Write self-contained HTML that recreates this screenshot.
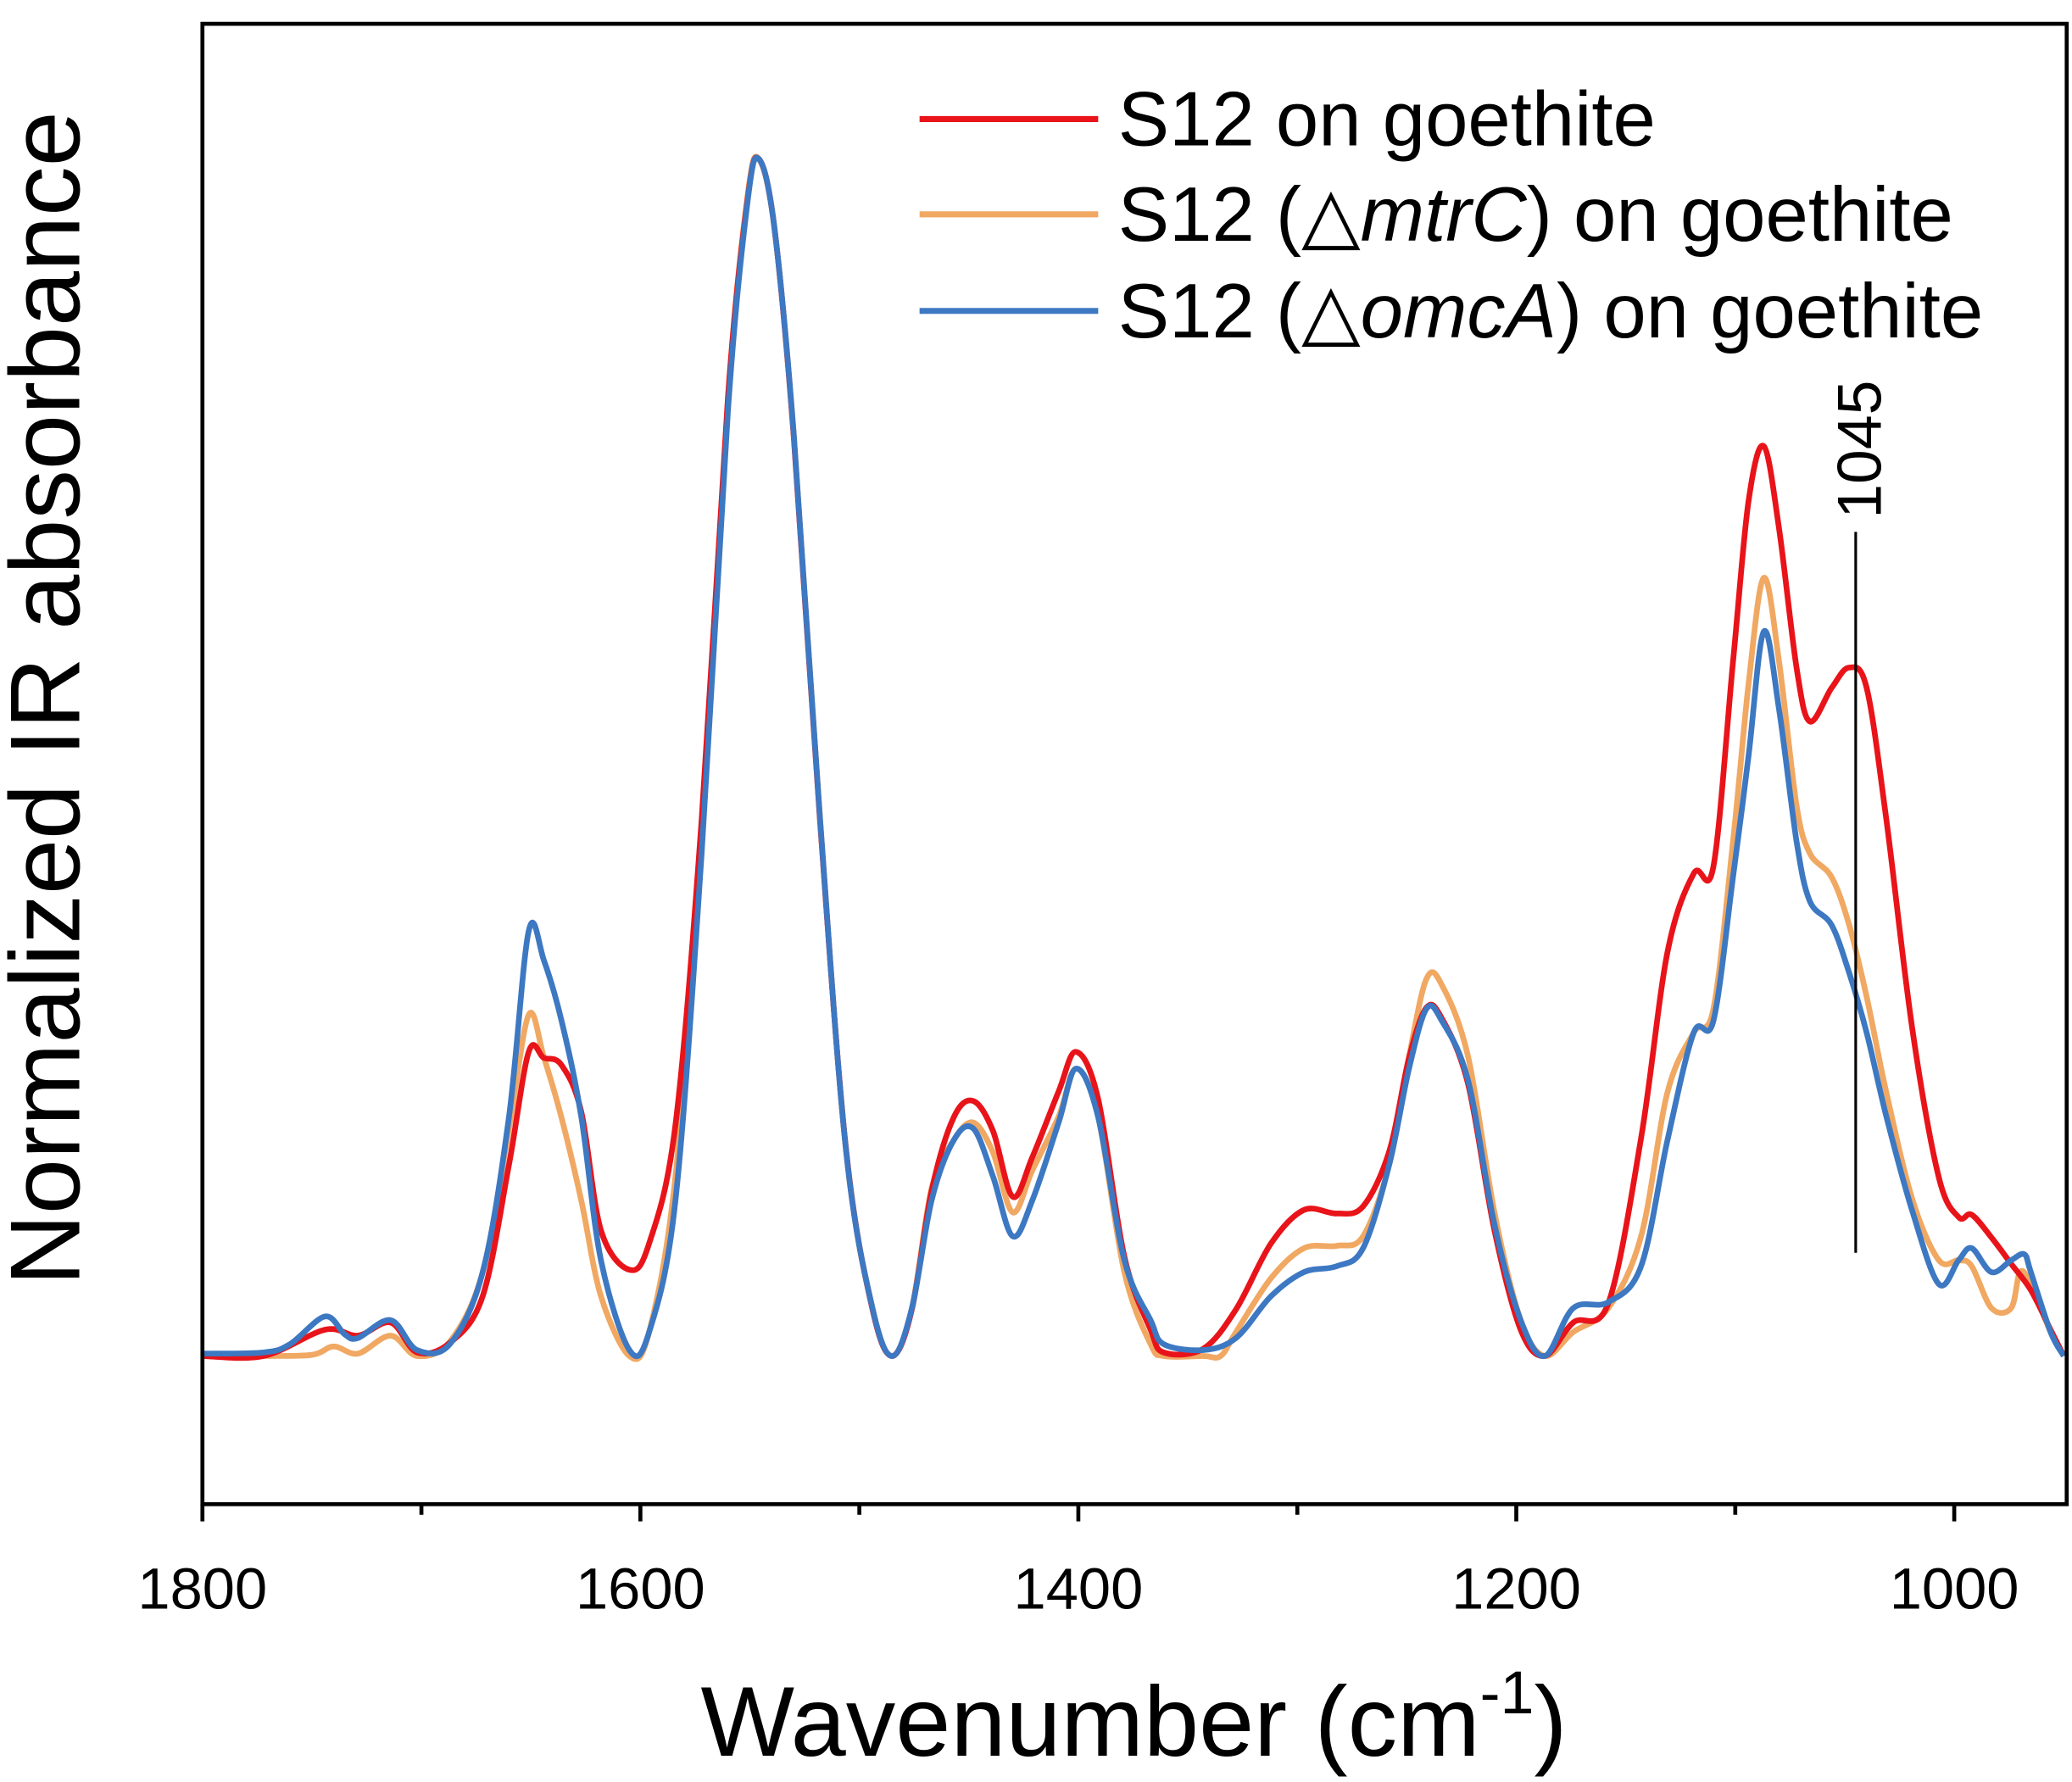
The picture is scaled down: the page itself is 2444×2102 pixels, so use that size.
<!DOCTYPE html>
<html><head><meta charset="utf-8"><style>
html,body{margin:0;padding:0;background:#fff;}
svg{display:block;font-family:"Liberation Sans",Arial,sans-serif;}
</style></head><body>
<svg id="chart" width="2444" height="2102" viewBox="0 0 1566 1347" preserveAspectRatio="none" xmlns="http://www.w3.org/2000/svg">
<g id="series"></g>
<rect x="153" y="18" width="1409" height="1119" fill="none" stroke="#000" stroke-width="3"/>
<g id="axis"></g>
<text transform="translate(60,528) rotate(-90)" text-anchor="middle" font-size="75">Normalized IR absorbance</text>
<text x="857" y="1327" text-anchor="middle" font-size="75">Wavenumber (cm<tspan font-size="46" dy="-32">-1</tspan><tspan dy="32">)</tspan></text>
<g font-size="58">
<line x1="695" y1="90" x2="830" y2="90" stroke="#e8141a" stroke-width="4.5"/>
<text x="845" y="110">S12 on goethite</text>
<line x1="695" y1="162" x2="830" y2="162" stroke="#f0a862" stroke-width="4.5"/>
<text x="845" y="182">S12 (△<tspan font-style="italic">mtrC</tspan>) on goethite</text>
<line x1="695" y1="235" x2="830" y2="235" stroke="#3d78c2" stroke-width="4.5"/>
<text x="845" y="255">S12 (△<tspan font-style="italic">omcA</tspan>) on goethite</text>
</g>
<g id="annot"></g>
</svg>
<script>
const categoriesRed = [1800,1772,1744,1729,1714,1702,1687,1672,1660,1651,1644,1636,1627,1618,1605,1596,1584,1572,1560,1551,1546,1539,1530,1518,1506,1494,1485,1476,1467,1457,1448,1439,1430,1421,1409,1401,1391,1379,1367,1361,1343,1328,1312,1297,1282,1270,1258,1249,1241,1234,1222,1210,1198,1187,1174,1158,1143,1131,1119,1110,1101,1094,1087,1080,1072,1066,1056,1048,1040,1031,1019,1007,998,992,983,974,965,956,950];
const valuesRed = [0,0,0.022,0.017,0.028,0.003,0.011,0.05,0.16,0.254,0.249,0.243,0.204,0.105,0.072,0.094,0.193,0.448,0.801,0.967,1.0,0.945,0.768,0.448,0.171,0.039,0,0.039,0.138,0.199,0.213,0.188,0.133,0.166,0.221,0.254,0.215,0.083,0.022,0.003,0.006,0.039,0.094,0.122,0.119,0.125,0.171,0.249,0.291,0.282,0.227,0.105,0.022,0,0.028,0.044,0.182,0.337,0.403,0.409,0.58,0.713,0.76,0.691,0.575,0.53,0.558,0.575,0.558,0.448,0.271,0.149,0.116,0.118,0.099,0.077,0.055,0.022,0];
const categoriesOrange = [1800,1772,1750,1740,1729,1714,1702,1687,1672,1660,1651,1644,1636,1627,1618,1605,1596,1584,1572,1560,1551,1546,1539,1530,1518,1506,1494,1485,1476,1467,1457,1448,1439,1430,1421,1409,1401,1391,1379,1367,1361,1343,1335,1328,1312,1297,1282,1270,1258,1249,1241,1234,1222,1210,1198,1187,1174,1158,1143,1131,1119,1110,1101,1094,1087,1080,1072,1066,1056,1048,1040,1031,1019,1007,998,992,983,974,970,965,956,950];
const valuesOrange = [0,0,0.001,0.008,0.002,0.017,0,0.012,0.07,0.19,0.285,0.249,0.199,0.13,0.05,0,0.02,0.15,0.43,0.8,0.97,1.0,0.945,0.77,0.45,0.17,0.04,0,0.04,0.14,0.18,0.195,0.17,0.12,0.155,0.2,0.24,0.2,0.07,0.01,0,0,0,0.02,0.065,0.09,0.092,0.1,0.16,0.25,0.315,0.31,0.25,0.12,0.03,0,0.02,0.04,0.1,0.22,0.27,0.29,0.43,0.56,0.65,0.58,0.46,0.42,0.4,0.36,0.3,0.22,0.13,0.08,0.08,0.075,0.04,0.04,0.07,0.06,0.02,0];
const categoriesBlue = [1800,1772,1760,1744,1735,1729,1714,1702,1687,1672,1660,1651,1644,1636,1627,1618,1605,1596,1584,1572,1560,1551,1546,1539,1530,1518,1506,1494,1485,1476,1467,1457,1448,1439,1430,1421,1409,1401,1391,1379,1367,1361,1343,1328,1312,1297,1282,1270,1258,1249,1241,1234,1222,1210,1198,1187,1174,1158,1143,1131,1119,1110,1101,1094,1087,1080,1072,1066,1056,1048,1040,1031,1019,1007,998,992,983,974,968,965,956,950];
const valuesBlue = [0.002,0.003,0.01,0.033,0.018,0.015,0.03,0.005,0.01,0.07,0.2,0.355,0.33,0.28,0.2,0.08,0.005,0.02,0.13,0.42,0.79,0.965,1.0,0.945,0.77,0.45,0.17,0.04,0,0.04,0.13,0.18,0.19,0.15,0.1,0.13,0.195,0.24,0.2,0.08,0.03,0.01,0.005,0.015,0.05,0.07,0.075,0.09,0.16,0.24,0.29,0.28,0.23,0.11,0.03,0,0.04,0.045,0.075,0.18,0.27,0.28,0.4,0.5,0.605,0.54,0.43,0.38,0.36,0.32,0.27,0.2,0.12,0.06,0.08,0.09,0.07,0.08,0.085,0.07,0.02,0];
const xTicks = [1800,1600,1400,1200,1000];
const xMinorTicks = [1700,1500,1300,1100];
const annotationWavenumber = 1045;

const NS = "http://www.w3.org/2000/svg";
function xs(w){ return 153 + (1800 - w) * 331 / 200; }
function ys(v){ return 1025 - v * 905; }
function smoothPath(cats, vals){
  const p = cats.map((c,i)=>[xs(c), ys(vals[i])]);
  let d = "M" + p[0][0].toFixed(1) + "," + p[0][1].toFixed(1);
  for(let i=0;i<p.length-1;i++){
    const p0=p[Math.max(0,i-1)], p1=p[i], p2=p[i+1], p3=p[Math.min(p.length-1,i+2)];
    const c1=[p1[0]+(p2[0]-p0[0])/6, p1[1]+(p2[1]-p0[1])/6];
    const c2=[p2[0]-(p3[0]-p1[0])/6, p2[1]-(p3[1]-p1[1])/6];
    d += " C"+c1[0].toFixed(1)+","+c1[1].toFixed(1)+" "+c2[0].toFixed(1)+","+c2[1].toFixed(1)+" "+p2[0].toFixed(1)+","+p2[1].toFixed(1);
  }
  return d;
}
const sg = document.getElementById("series");
[["series-s12-omca",categoriesBlue,valuesBlue,"#3d78c2"],["series-s12-mtrc",categoriesOrange,valuesOrange,"#f0a862"],["series-s12",categoriesRed,valuesRed,"#e8141a"]].forEach(s=>{
  const path = document.createElementNS(NS,"path");
  
  
  path.setAttribute("d", smoothPath(s[1], s[2]));
  path.setAttribute("fill","none");
  path.setAttribute("stroke", s[3]);
  path.setAttribute("stroke-width","4.3");
  path.setAttribute("stroke-linejoin","round");
  sg.appendChild(path);
});
sg.appendChild(sg.firstChild);
const ag = document.getElementById("axis");
xTicks.forEach(t=>{
  const l = document.createElementNS(NS,"line");
  
  
  l.setAttribute("x1", xs(t)); l.setAttribute("x2", xs(t));
  l.setAttribute("y1", 1137); l.setAttribute("y2", 1150);
  l.setAttribute("stroke","#000"); l.setAttribute("stroke-width","3");
  ag.appendChild(l);
  const tx = document.createElementNS(NS,"text");
  
  
  tx.setAttribute("x", xs(t)); tx.setAttribute("y", 1216);
  tx.setAttribute("text-anchor","middle"); tx.setAttribute("font-size","44");
  tx.textContent = t;
  ag.appendChild(tx);
});
xMinorTicks.forEach(t=>{
  const l = document.createElementNS(NS,"line");
  
  
  l.setAttribute("x1", xs(t)); l.setAttribute("x2", xs(t));
  l.setAttribute("y1", 1137); l.setAttribute("y2", 1145);
  l.setAttribute("stroke","#000"); l.setAttribute("stroke-width","3");
  ag.appendChild(l);
});
const an = document.getElementById("annot");
const al = document.createElementNS(NS,"line");


al.setAttribute("x1", xs(annotationWavenumber)); al.setAttribute("x2", xs(annotationWavenumber));
al.setAttribute("y1", 402); al.setAttribute("y2", 947);
al.setAttribute("stroke","#000"); al.setAttribute("stroke-width","2");
an.appendChild(al);
const at = document.createElementNS(NS,"text");


at.setAttribute("transform","translate("+(xs(annotationWavenumber)+19)+",392) rotate(-90)");
at.setAttribute("font-size","47");
at.textContent = String(annotationWavenumber);
an.appendChild(at);
</script>
</body></html>
